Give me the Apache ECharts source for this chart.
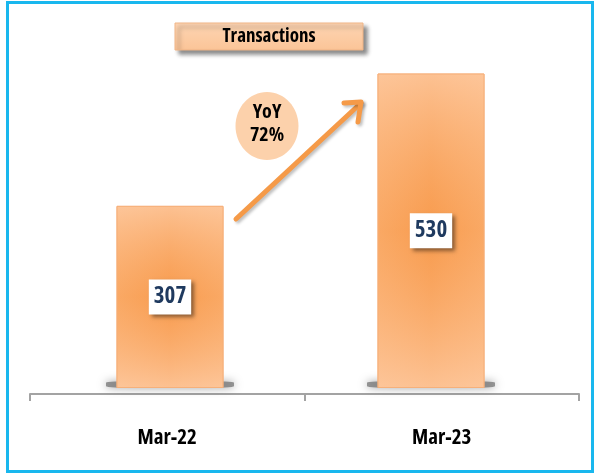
<!DOCTYPE html>
<html>
<head>
<meta charset="utf-8">
<script src="https://cdn.jsdelivr.net/npm/echarts@6/dist/echarts.min.js"></script>
<style>
  html, body { margin: 0; padding: 0; background: #ffffff; }
  #chart { width: 597px; height: 476px; }
</style>
</head>
<body>
<div id="chart"></div>
<script>
// Transactions by fiscal year-end
const categories = ['Mar-22', 'Mar-23'];
const transactions = [307, 530];
const chartTitle = 'Transactions';
const growthLines = ['YoY', '72%'];

// narrow bold face: Open Sans squeezed through font-stretch
const FONT = "'Open Sans', Roboto, sans-serif";
const WEIGHT = 'bold condensed';
const PEACH = '#fdc396';

const chart = echarts.init(document.getElementById('chart'), null, { renderer: 'canvas' });

const option = {
  animation: false,
  backgroundColor: '#ffffff',
  grid: [
    // bars
    { left: 39.5, right: 35.5, top: 32, bottom: 88 },
    // visible category axis
    { left: 30, right: 18, top: 300, bottom: 82 }
  ],
  xAxis: [
    { type: 'category', gridIndex: 0, data: categories, show: false },
    {
      type: 'category', gridIndex: 1, data: categories,
      axisLine: { show: true, lineStyle: { color: '#a3a3a3', width: 2 } },
      axisTick: { show: true, length: 7, lineStyle: { color: '#a3a3a3', width: 2 } },
      axisLabel: { margin: 34, color: '#000000', fontFamily: FONT, fontWeight: WEIGHT, fontSize: 21 }
    }
  ],
  yAxis: [
    { type: 'value', gridIndex: 0, min: 0, max: 600, show: false },
    { type: 'value', gridIndex: 1, show: false }
  ],
  series: [
    // soft shadow pooled under each bar
    {
      type: 'pictorialBar', xAxisIndex: 0, yAxisIndex: 0, z: 1,
      data: transactions,
      symbol: 'roundRect', symbolSize: [128, 7], symbolPosition: 'start',
      symbolOffset: [0, 0],
      itemStyle: { color: 'rgba(110,110,110,0.7)', shadowBlur: 9, shadowColor: 'rgba(0,0,0,0.55)' }
    },
    // horizontal shading: light sides, darker middle
    {
      type: 'bar', xAxisIndex: 0, yAxisIndex: 0, z: 2,
      data: transactions, barWidth: 107, barGap: '-100%',
      itemStyle: {
        color: new echarts.graphic.LinearGradient(0, 0, 1, 0, [
          { offset: 0, color: PEACH },
          { offset: 0.5, color: '#f9a665' },
          { offset: 1, color: PEACH }
        ]),
        borderColor: '#f6b07a', borderWidth: 1
      }
    },
    // vertical shading layered on top, with the value tag
    {
      type: 'bar', xAxisIndex: 0, yAxisIndex: 0, z: 3,
      data: transactions, barWidth: 107, barGap: '-100%',
      itemStyle: {
        color: new echarts.graphic.LinearGradient(0, 0, 0, 1, [
          { offset: 0, color: 'rgba(253,198,154,0.85)' },
          { offset: 0.5, color: 'rgba(247,147,60,0.55)' },
          { offset: 1, color: 'rgba(253,198,154,0.85)' }
        ]),
        borderColor: '#f6b07a', borderWidth: 1
      },
      label: {
        show: true, position: 'inside',
        color: '#1f3a5f', fontFamily: FONT, fontWeight: WEIGHT, fontSize: 23,
        backgroundColor: '#ffffff',
        padding: [6, 5, 6, 5],
        shadowColor: 'rgba(0,0,0,0.45)', shadowBlur: 4, shadowOffsetX: 3, shadowOffsetY: 3
      }
    }
  ],
  graphic: [
    // outer frame
    {
      type: 'rect', z: 100, silent: true,
      shape: { x: 7.5, y: 2.5, width: 585, height: 469 },
      style: { fill: 'none', stroke: '#18b7ee', lineWidth: 3 }
    },
    // title box
    {
      type: 'group', z: 50,
      children: [
        {
          type: 'rect',
          shape: { x: 175, y: 23, width: 188, height: 27 },
          style: {
            fill: new echarts.graphic.LinearGradient(0, 0, 0, 1, [
              { offset: 0, color: '#fdd5b3' },
              { offset: 1, color: '#fbc497' }
            ]),
            stroke: '#f0b587', lineWidth: 1,
            shadowColor: 'rgba(0,0,0,0.45)', shadowBlur: 4, shadowOffsetX: 4, shadowOffsetY: 4
          }
        },
        {
          type: 'text',
          style: {
            x: 269, y: 37, text: chartTitle, align: 'center', verticalAlign: 'middle',
            fill: '#000000', font: WEIGHT + ' 19px ' + FONT
          }
        }
      ]
    },
    // growth bubble
    {
      type: 'group', z: 50,
      children: [
        {
          type: 'ellipse',
          shape: { cx: 267, cy: 126, rx: 31.5, ry: 34 },
          style: { fill: '#fcd1ab' }
        },
        {
          type: 'text',
          style: {
            x: 267, y: 124, text: growthLines.join('\n'), align: 'center', verticalAlign: 'middle',
            fill: '#000000', font: WEIGHT + ' 20px ' + FONT, lineHeight: 23
          }
        }
      ]
    },
    // growth arrow
    {
      type: 'group', z: 40,
      children: [
        {
          type: 'polyline',
          shape: { points: [[236, 219], [361, 103]] },
          style: {
            stroke: '#f59a48', lineWidth: 5, lineCap: 'round',
            shadowColor: 'rgba(0,0,0,0.25)', shadowBlur: 3, shadowOffsetX: 2, shadowOffsetY: 2
          }
        },
        {
          type: 'polyline',
          shape: { points: [[344, 103], [361, 102], [358, 122]] },
          style: {
            fill: 'none', stroke: '#f59a48', lineWidth: 5, lineCap: 'round', lineJoin: 'round',
            shadowColor: 'rgba(0,0,0,0.25)', shadowBlur: 3, shadowOffsetX: 2, shadowOffsetY: 2
          }
        }
      ]
    }
  ]
};

chart.setOption(option);
</script>
</body>
</html>
